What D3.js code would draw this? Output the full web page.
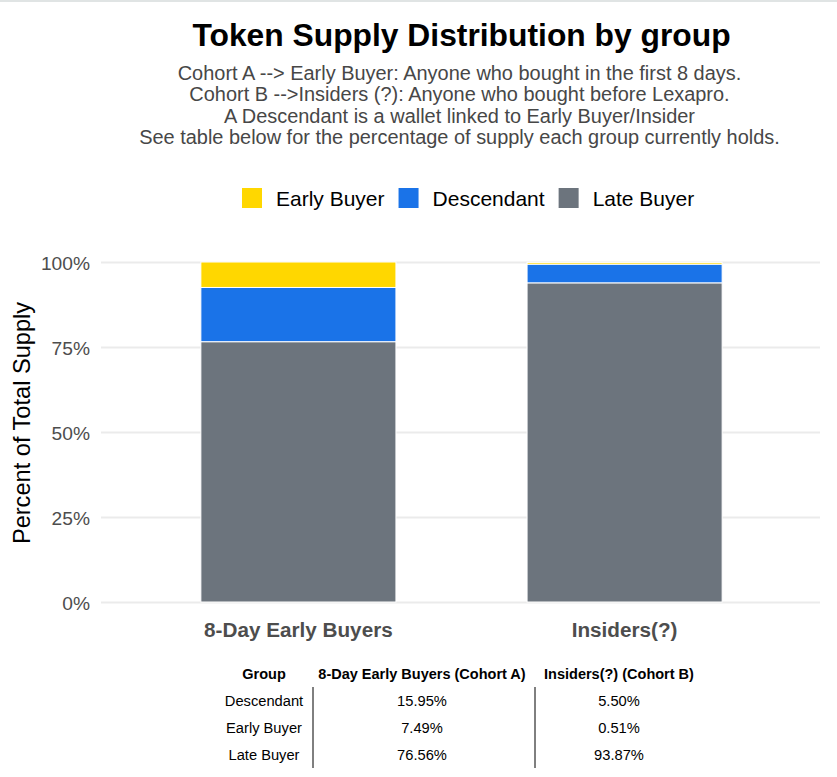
<!DOCTYPE html>
<html>
<head>
<meta charset="utf-8">
<script src="https://cdn.jsdelivr.net/npm/d3@7"></script>
<style>
  body { margin: 0; background: #fff; }
  svg { display: block; font-family: "Liberation Sans", Arial, sans-serif; }
</style>
</head>
<body>
<svg id="chart" width="837" height="777"></svg>
<script>
// data
const groups = ["8-Day Early Buyers", "Insiders(?)"];
const tableHeaders = ["Group", "8-Day Early Buyers (Cohort A)", "Insiders(?) (Cohort B)"];
const kinds = ["Descendant", "Early Buyer", "Late Buyer"];
const cohortA = [15.95, 7.49, 76.56];
const cohortB = [5.50, 0.51, 93.87];
const legendOrder = ["Early Buyer", "Descendant", "Late Buyer"];
const stackOrder = ["Late Buyer", "Descendant", "Early Buyer"]; // bottom -> top
const yTicks = [0, 0.25, 0.5, 0.75, 1];
const subtitleLines = [
  "Cohort A --> Early Buyer: Anyone who bought in the first 8 days.",
  "Cohort B -->Insiders (?): Anyone who bought before Lexapro.",
  "A Descendant is a wallet linked to Early Buyer/Insider",
  "See table below for the percentage of supply each group currently holds."
];

const colors = { "Early Buyer": "#ffd700", "Descendant": "#1a73e8", "Late Buyer": "#6c747d" };

const svg = d3.select("#chart");

// thin line at the very top
svg.append("line")
  .attr("x1", 0).attr("x2", 837).attr("y1", 1).attr("y2", 1)
  .attr("stroke", "#d6dbdb").attr("stroke-width", 1.5);

// plot area
const pLeft = 101, pRight = 820, pTop = 262, pBottom = 602;
const x = d3.scaleBand().domain(groups).range([pLeft + 2, pRight]).paddingInner(0.402).paddingOuter(0.3);
const y = d3.scaleLinear().domain([0, 1]).range([pBottom, pTop]);

// title + subtitle
const cx = (pLeft + pRight) / 2;
svg.append("text")
  .attr("x", cx + 1).attr("y", 46)
  .attr("text-anchor", "middle")
  .attr("font-size", 31.8).attr("font-weight", "bold").attr("fill", "#000")
  .text("Token Supply Distribution by group");

svg.append("g").selectAll("text")
  .data(subtitleLines)
  .join("text")
  .attr("x", cx - 1).attr("y", (d, i) => 80 + i * 21.3)
  .attr("text-anchor", "middle")
  .attr("font-size", 19.95).attr("fill", "#474747")
  .text(d => d);

// legend
const legend = svg.append("g");
let lx = 242;
legendOrder.forEach(k => {
  legend.append("rect")
    .attr("x", lx).attr("y", 188).attr("width", 20).attr("height", 20)
    .attr("fill", colors[k]);
  const t = legend.append("text")
    .attr("x", lx + 34).attr("y", 206)
    .attr("font-size", 21).attr("fill", "#000")
    .text(k);
  lx += 34 + t.node().getComputedTextLength() + 14;
});

// y axis with grid
const yAxis = svg.append("g")
  .attr("transform", `translate(${pLeft},0)`)
  .call(d3.axisLeft(y)
    .tickValues(yTicks)
    .tickFormat(d3.format(".0%"))
    .tickSize(-(pRight - pLeft))
    .tickPadding(11));
yAxis.select(".domain").remove();
yAxis.selectAll(".tick line").attr("stroke", "#ebebeb").attr("stroke-width", 1.8);
yAxis.selectAll(".tick text")
  .attr("font-size", 19.2).attr("fill", "#4d4d4d")
  .attr("font-family", "Liberation Sans, Arial, sans-serif")
  .attr("dy", "0.38em");

// y axis title
svg.append("text")
  .attr("transform", "translate(30,423) rotate(-90)")
  .attr("text-anchor", "middle")
  .attr("font-size", 23.6).attr("fill", "#000")
  .text("Percent of Total Supply");

// stacked bars
const rows = groups.map((g, gi) => {
  const vals = gi === 0 ? cohortA : cohortB;
  const r = { group: g };
  kinds.forEach((k, ki) => { r[k] = vals[ki] / 100; });
  return r;
});
const series = d3.stack().keys(stackOrder)(rows);

svg.append("g").selectAll("g")
  .data(series)
  .join("g")
  .attr("fill", d => colors[d.key])
  .selectAll("rect")
  .data(d => d)
  .join("rect")
  .attr("x", d => x(d.data.group))
  .attr("width", x.bandwidth())
  .attr("y", d => y(d[1]))
  .attr("height", d => y(d[0]) - y(d[1]))
  .attr("stroke", "#fff")
  .attr("stroke-width", 1);

// x axis labels
const xAxis = svg.append("g")
  .attr("transform", `translate(0,${pBottom})`)
  .call(d3.axisBottom(x).tickSize(0).tickPadding(20));
xAxis.select(".domain").remove();
xAxis.selectAll(".tick text")
  .attr("font-size", 20.7).attr("font-weight", "bold").attr("fill", "#4d4d4d")
  .attr("font-family", "Liberation Sans, Arial, sans-serif");

// table below
const colX = [264, 422, 619];
const table = svg.append("g").attr("fill", "#000");
table.selectAll("text.head")
  .data(tableHeaders)
  .join("text")
  .attr("class", "head")
  .attr("x", (d, i) => colX[i]).attr("y", 679)
  .attr("text-anchor", "middle").attr("font-weight", "bold")
  .attr("font-size", 14.5)
  .text(d => d);

const rowY = [706, 733, 760];
kinds.forEach((k, ri) => {
  const cells = [k, cohortA[ri].toFixed(2) + "%", cohortB[ri].toFixed(2) + "%"];
  cells.forEach((c, ci) => {
    table.append("text")
      .attr("x", colX[ci]).attr("y", rowY[ri])
      .attr("text-anchor", "middle")
      .attr("font-size", 14.7)
      .text(c);
  });
});

[313, 535].forEach(vx => {
  table.append("line")
    .attr("x1", vx).attr("x2", vx).attr("y1", 687).attr("y2", 768)
    .attr("stroke", "#000").attr("stroke-width", 1);
});
</script>
</body>
</html>
